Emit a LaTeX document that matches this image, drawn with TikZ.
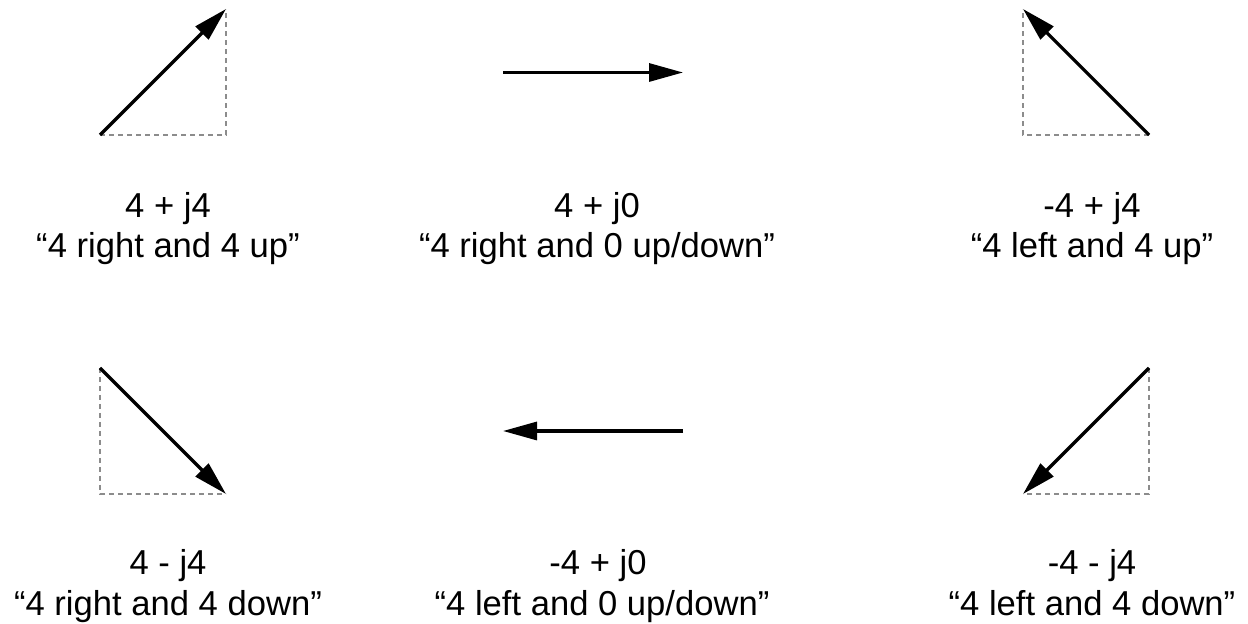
\documentclass[tikz,border=0pt]{standalone}
\usepackage{fontspec}
\setmainfont{Liberation Sans}
\usetikzlibrary{arrows.meta}
\begin{document}
\begin{tikzpicture}[x=0.5pt,y=-0.5pt,
  vec/.style={line width=1.6pt,-{Triangle[length=17pt,width=9pt]}},
  guide/.style={line width=1.3pt,draw=black!45,dash pattern=on 2.5pt off 2pt},
  lbl/.style={anchor=base,font=\fontsize{17.3pt}{20pt}\selectfont,inner sep=0pt}]
\useasboundingbox (0,0) rectangle (1248,624);
% row 1
\coordinate (a1) at (100,135); \coordinate (b1) at (226,9); \coordinate (c1) at (226,135);
\draw[guide] (a1) -- (c1) -- (b1);
\draw[vec] (a1) -- (b1);
\coordinate (a2) at (503,72.5); \coordinate (b2) at (683,72.5);
\draw[vec] (a2) -- (b2);
\coordinate (a3) at (1149,135); \coordinate (b3) at (1023,9); \coordinate (c3) at (1023,135);
\draw[guide] (a3) -- (c3) -- (b3);
\draw[vec] (a3) -- (b3);
% row 2
\coordinate (a4) at (100,368); \coordinate (b4) at (226,494); \coordinate (c4) at (100,494);
\draw[guide] (a4) -- (c4) -- (b4);
\draw[vec] (a4) -- (b4);
\coordinate (a5) at (683,431); \coordinate (b5) at (503,431);
\draw[vec] (a5) -- (b5);
\coordinate (a6) at (1149,368); \coordinate (b6) at (1023,494); \coordinate (c6) at (1149,494);
\draw[guide] (a6) -- (c6) -- (b6);
\draw[vec] (a6) -- (b6);
% labels
\node[lbl] (t1a) at (168,218) {4 + j4};
\node[lbl] (t1b) at (168,258) {“4 right and 4 up”};
\node[lbl] (t2a) at (597,218) {4 + j0};
\node[lbl] (t2b) at (597,258) {“4 right and 0 up/down”};
\node[lbl] (t3a) at (1092,218) {-4 + j4};
\node[lbl] (t3b) at (1092,258) {“4 left and 4 up”};
\node[lbl] (t4a) at (168,575) {4 - j4};
\node[lbl] (t4b) at (168,616) {“4 right and 4 down”};
\node[lbl] (t5a) at (598,575) {-4 + j0};
\node[lbl] (t5b) at (602,616) {“4 left and 0 up/down”};
\node[lbl] (t6a) at (1092,575) {-4 - j4};
\node[lbl] (t6b) at (1092,616) {“4 left and 4 down”};
\end{tikzpicture}
\end{document}
